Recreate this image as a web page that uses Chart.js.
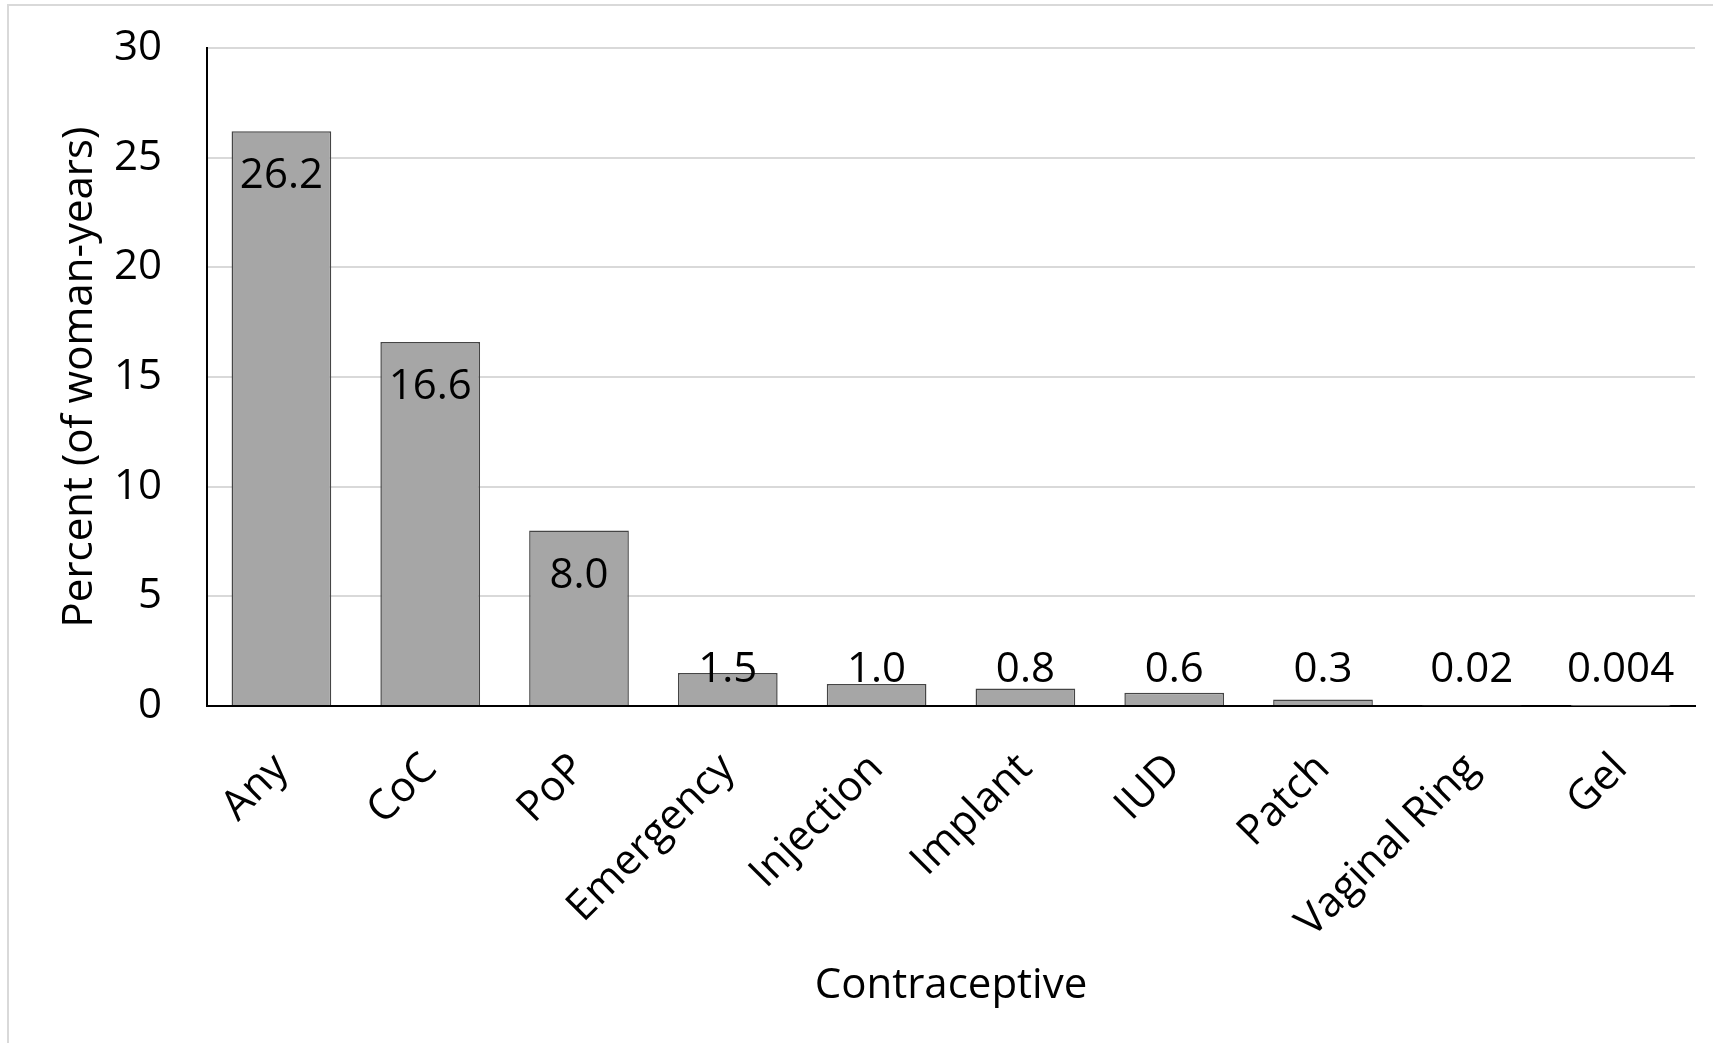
<!DOCTYPE html>
<html>
<head>
<meta charset="utf-8">
<script src="https://cdn.jsdelivr.net/npm/chart.js@4"></script>
<style>
  html, body { margin: 0; padding: 0; background: #fff; overflow: hidden; }
  #frame { position: absolute; left: 7px; top: 4px; width: 1800px; height: 1100px; border: 2px solid #d9d9d9; box-sizing: border-box; }
  #wrap { position: absolute; left: 0; top: 0; width: 1713px; height: 1043px; }
</style>
</head>
<body>
<div id="frame"></div>
<div id="wrap"><canvas id="chart" width="1713" height="1043"></canvas></div>
<script>
const categories = ['Any', 'CoC', 'PoP', 'Emergency', 'Injection', 'Implant', 'IUD', 'Patch', 'Vaginal Ring', 'Gel'];
const percentValues = [26.2, 16.6, 8.0, 1.5, 1.0, 0.8, 0.6, 0.3, 0.02, 0.004];
const valueLabels = ['26.2', '16.6', '8.0', '1.5', '1.0', '0.8', '0.6', '0.3', '0.02', '0.004'];

const fontFamily = '"Open Sans", "Noto Sans", sans-serif';

// labels inside the top of the bar, pushed up for short bars
const barLabels = {
  id: 'barLabels',
  afterDatasetsDraw(chart) {
    const ctx = chart.ctx;
    const yScale = chart.scales.y;
    const base = yScale.getPixelForValue(0);
    const meta = chart.getDatasetMeta(0);
    ctx.save();
    ctx.font = '42px ' + fontFamily;
    ctx.fillStyle = '#000';
    ctx.textAlign = 'center';
    ctx.textBaseline = 'middle';
    meta.data.forEach((bar, i) => {
      const y = Math.min(bar.y + 45, base - 36);
      ctx.fillText(valueLabels[i], bar.x, y);
    });
    ctx.restore();
  }
};

new Chart(document.getElementById('chart').getContext('2d'), {
  type: 'bar',
  data: {
    labels: categories,
    datasets: [{
      data: percentValues,
      backgroundColor: '#a6a6a6',
      borderColor: '#454545',
      borderWidth: 1.5,
      barPercentage: 0.67,
      categoryPercentage: 1
    }]
  },
  options: {
    responsive: false,
    animation: false,
    layout: { padding: { left: 45, top: 48, right: 18, bottom: 0 } },
    plugins: { legend: { display: false }, tooltip: { enabled: false } },
    scales: {
      x: {
        grid: { display: false },
        border: { color: '#000', width: 2 },
        ticks: {
          color: '#000',
          font: { family: fontFamily, size: 42 },
          minRotation: 45,
          maxRotation: 45,
          padding: 30,
          autoSkip: false
        },
        title: {
          display: true,
          text: 'Contraceptive',
          color: '#000',
          font: { family: fontFamily, size: 42 },
          padding: { top: 0, bottom: 32 }
        },
        afterFit(scale) { scale.height = 337; }
      },
      y: {
        min: 0,
        max: 30,
        ticks: {
          stepSize: 5,
          color: '#000',
          font: { family: fontFamily, size: 42 },
          padding: 45
        },
        grid: { color: '#d9d9d9', lineWidth: 2, drawTicks: false },
        border: { color: '#000', width: 2 },
        title: {
          display: true,
          text: 'Percent (of woman-years)',
          color: '#000',
          font: { family: fontFamily, size: 42 },
          padding: { top: 10, bottom: 0 }
        },
        afterFit(scale) {
          scale.width = 162;
          scale.paddingTop = 25;
          scale.paddingBottom = 25;
        }
      }
    }
  },
  plugins: [barLabels]
});
</script>
</body>
</html>
